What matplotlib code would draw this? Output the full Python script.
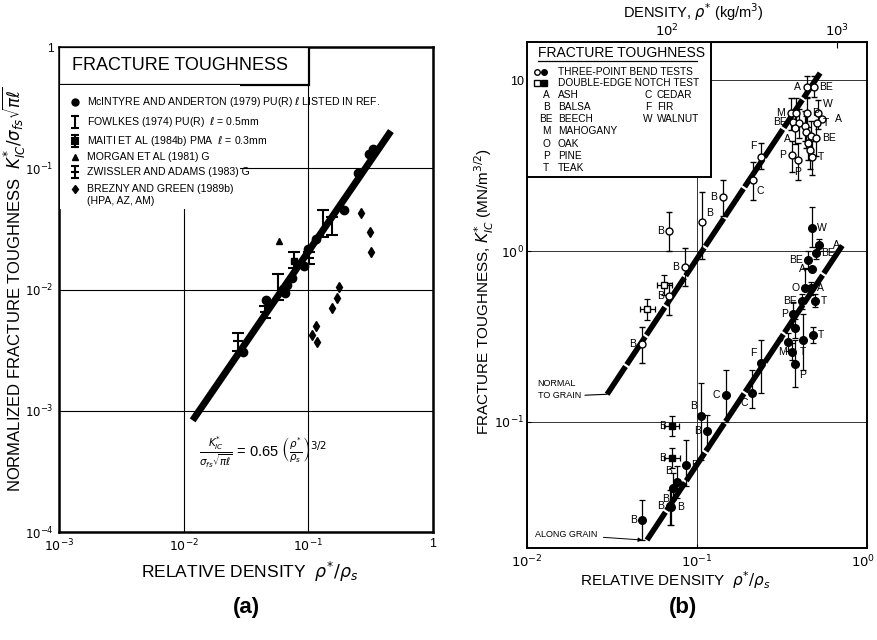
import numpy as np
import matplotlib
matplotlib.use("Agg")
import matplotlib.pyplot as plt
from matplotlib.patches import Rectangle
from matplotlib.ticker import NullLocator
from matplotlib.transforms import ScaledTranslation

plt.rcParams['font.family'] = ['Liberation Sans', 'DejaVu Sans']
plt.rcParams['mathtext.fontset'] = 'dejavusans'

# ---------------- (a) normalized fracture toughness of foams ----------------
mcintyre_x = [0.0299, 0.0459, 0.0655, 0.068, 0.063, 0.074, 0.093, 0.100, 0.115,
              0.194, 0.251, 0.308, 0.331]
mcintyre_y = [0.00303, 0.00826, 0.0094, 0.0108, 0.0101, 0.0125, 0.0156, 0.0217,
              0.0259, 0.0452, 0.092, 0.130, 0.144]

fowlkes_x = [0.0569, 0.132, 0.155]
fowlkes_y = [0.0103, 0.0344, 0.0333]
fowlkes_lo = [0.0082, 0.0270, 0.0280]
fowlkes_hi = [0.0135, 0.0450, 0.0400]

maiti_x = [0.0773]
maiti_y = [0.0171]
maiti_lo = [0.0150]
maiti_hi = [0.0205]

morgan_x = [0.0586]
morgan_y = [0.025]

zwissler_x = [0.0272, 0.0452, 0.101]
zwissler_y = [0.00374, 0.0065, 0.0183]
zwissler_lo = [0.0031, 0.0058, 0.0162]
zwissler_hi = [0.0044, 0.0073, 0.0205]

brezny_x = [0.264, 0.312, 0.318, 0.175, 0.171, 0.155, 0.115, 0.107, 0.117]
brezny_y = [0.043, 0.030, 0.0205, 0.0105, 0.0085, 0.0070, 0.0050, 0.0042, 0.0037]

fit_a_coef = 0.65
fit_a_exp = 1.5
fit_a_range = [0.0118, 0.46]

legend_a = [
    "McINTYRE AND ANDERTON (1979) PU(R) $\\ell$ LISTED IN REF.",
    "FOWLKES (1974) PU(R)  $\\ell$ = 0.5mm",
    "MAITI ET AL (1984b) PMA  $\\ell$ = 0.3mm",
    "MORGAN ET AL (1981) G",
    "ZWISSLER AND ADAMS (1983) G",
    "BREZNY AND GREEN (1989b)",
    "(HPA, AZ, AM)",
]

# ---------------- (b) fracture toughness of woods ----------------
RHO_S = 1500.0  # cell wall density, kg/m^3

normal_x = [0.442, 0.488, 0.356, 0.380, 0.442, 0.517, 0.540, 0.366, 0.400, 0.430,
            0.509, 0.376, 0.440, 0.470, 0.503, 0.450, 0.460, 0.360, 0.392, 0.474,
            0.237, 0.213, 0.142, 0.107, 0.0687, 0.0849, 0.0687, 0.0473]
normal_y = [9.06, 9.06, 6.38, 6.38, 6.38, 6.38, 5.90, 5.70, 5.60, 5.40,
            5.58, 5.22, 5.00, 4.70, 4.56, 4.30, 3.90, 3.64, 3.40, 3.56,
            3.56, 2.60, 2.08, 1.48, 1.31, 0.81, 0.546, 0.286]
normal_lo = [8.0, 8.0, 5.1, 5.2, 5.0, 5.2, 5.9, 5.7, 4.6, 4.4,
             5.58, 4.2, 4.0, 3.8, 3.6, 3.4, 3.0, 2.9, 2.6, 2.8,
             3.0, 2.0, 1.6, 0.9, 1.0, 0.62, 0.42, 0.22]
normal_hi = [10.5, 10.5, 7.9, 7.9, 7.9, 7.6, 5.9, 5.7, 6.8, 6.6,
             5.58, 6.4, 6.2, 5.8, 5.6, 5.3, 4.8, 4.4, 4.3, 4.4,
             4.3, 3.3, 2.6, 2.2, 1.7, 1.04, 0.65, 0.36]
normal_lbl = ["A", "BE", "M", "", "P", "W", "A", "BE", "", "",
              "T", "A", "", "", "BE", "", "", "P", "P", "T",
              "F", "C", "B", "B", "B", "B", "B", "B"]
normal_side = ["l", "r", "l", "", "r", "ur", "rr", "l", "", "",
               "r", "bl", "", "", "r", "", "", "l", "b", "r",
               "ul", "br", "l", "ur", "l", "l", "l", "l"]

normal_sq_x = [0.0643, 0.0510]
normal_sq_y = [0.632, 0.456]

along_x = [0.473, 0.525, 0.500, 0.450, 0.473, 0.430, 0.470, 0.416, 0.494, 0.368,
           0.376, 0.420, 0.478, 0.345, 0.363, 0.379, 0.237, 0.210, 0.148, 0.106,
           0.114, 0.0860, 0.0758, 0.0725, 0.0693, 0.0705, 0.0478]
along_y = [1.36, 1.08, 0.98, 0.885, 0.79, 0.605, 0.605, 0.512, 0.512, 0.429,
           0.353, 0.302, 0.323, 0.295, 0.257, 0.217, 0.220, 0.148, 0.144, 0.108,
           0.0886, 0.0561, 0.0448, 0.0410, 0.0323, 0.0318, 0.0267]
along_lo = [1.05, 1.0, 0.9, 0.78, 0.79, 0.605, 0.55, 0.46, 0.47, 0.37,
            0.31, 0.20, 0.29, 0.26, 0.23, 0.16, 0.147, 0.12, 0.10, 0.06,
            0.07, 0.042, 0.036, 0.035, 0.025, 0.025, 0.0205]
along_hi = [1.80, 1.17, 1.06, 1.00, 0.79, 0.80, 0.66, 0.56, 0.56, 0.50,
            0.40, 0.43, 0.36, 0.33, 0.29, 0.30, 0.30, 0.20, 0.20, 0.17,
            0.11, 0.078, 0.055, 0.050, 0.040, 0.040, 0.035]
along_lbl = ["W", "A", "BE", "BE", "A", "O", "A", "BE", "T", "P",
             "", "T", "T", "P", "M", "P", "F", "C", "C", "B",
             "B", "B", "B", "B", "B", "B", "B"]
along_side = ["r", "rr", "r", "l", "l", "l", "r", "l", "r", "l",
              "", "b", "r", "l", "l", "br", "ul", "bl", "l", "ul",
              "l", "r", "ul", "bl", "l", "r", "l"]

along_sq_x = [0.0710, 0.0713]
along_sq_y = [0.0948, 0.0614]

fit_normal_coef = 28.5
fit_normal_range = [0.0296, 0.53]
fit_along_coef = 1.78
fit_along_range = [0.0508, 0.723]
fit_b_exp = 1.5

species_col1 = [("A", "ASH"), ("B", "BALSA"), ("BE", "BEECH"), ("M", "MAHOGANY"),
                ("O", "OAK"), ("P", "PINE"), ("T", "TEAK")]
species_col2 = [("C", "CEDAR"), ("F", "FIR"), ("W", "WALNUT")]

# ============================================================================
W, H = 877.0, 640.0
fig = plt.figure(figsize=(W / 100, H / 100), dpi=100)
ax_a = fig.add_axes([0.0673, 0.16875, 0.4264, 0.7578])
ax_b = fig.add_axes([0.6009, 0.14375, 0.3877, 0.7906])


def fig_pos(px, py):
    return px / W, 1 - py / H


def style_log_axes(ax, lw):
    ax.set_xscale("log")
    ax.set_yscale("log")
    ax.xaxis.set_minor_locator(NullLocator())
    ax.yaxis.set_minor_locator(NullLocator())
    for s in ax.spines.values():
        s.set_linewidth(lw)
    ax.grid(True, which="major", color="black", lw=0.8, zorder=0)
    ax.set_axisbelow(True)


# ---------------- panel (a) ----------------
style_log_axes(ax_a, 1.8)
ax_a.set_xlim(1e-3, 1)
ax_a.set_ylim(1e-4, 1)
ax_a.set_xticks([1e-3, 1e-2, 1e-1, 1])
ax_a.set_xticklabels(["$10^{-3}$", "$10^{-2}$", "$10^{-1}$", "1"], fontsize=9)
ax_a.set_yticks([1e-4, 1e-3, 1e-2, 1e-1, 1])
ax_a.set_yticklabels(["$10^{-4}$", "$10^{-3}$", "$10^{-2}$", "$10^{-1}$", "1"], fontsize=8.5)
ax_a.tick_params(length=0, pad=4)

xf = np.array(fit_a_range)
ax_a.plot(xf, fit_a_coef * xf ** fit_a_exp, color="black", lw=5, solid_capstyle="butt", zorder=3)

ax_a.plot(mcintyre_x, mcintyre_y, "o", color="black", ms=6, zorder=4)
ax_a.errorbar(fowlkes_x, fowlkes_y,
              yerr=[np.subtract(fowlkes_y, fowlkes_lo), np.subtract(fowlkes_hi, fowlkes_y)],
              fmt="none", ecolor="black", elinewidth=1.5, capsize=4, capthick=1.5, zorder=4)
ax_a.errorbar(maiti_x, maiti_y,
              yerr=[np.subtract(maiti_y, maiti_lo), np.subtract(maiti_hi, maiti_y)],
              fmt="s", color="black", ms=4, elinewidth=1.5, capsize=4, capthick=1.5, zorder=4)
ax_a.plot(morgan_x, morgan_y, "^", color="black", ms=5, zorder=4)
ax_a.errorbar(zwissler_x, zwissler_y,
              yerr=[np.subtract(zwissler_y, zwissler_lo), np.subtract(zwissler_hi, zwissler_y)],
              fmt="_", color="black", ms=7, mew=1.5, elinewidth=1.5, capsize=4, capthick=1.5, zorder=4)
ax_a.plot(brezny_x, brezny_y, "d", color="black", ms=5, zorder=4)

# title box and key
ax_a.add_patch(Rectangle((0, 0.922), 0.668, 0.078, transform=ax_a.transAxes,
                         facecolor="white", edgecolor="black", lw=1.6, zorder=5))
ax_a.text(0.035, 0.961, "FRACTURE TOUGHNESS", transform=ax_a.transAxes,
          fontsize=13, va="center", ha="left", zorder=6)
ax_a.add_patch(Rectangle((0.003, 0.665), 0.48, 0.256, transform=ax_a.transAxes,
                         facecolor="white", edgecolor="none", zorder=5))
key_y = [0.887, 0.846, 0.806, 0.773, 0.742, 0.707, 0.683]
mx, tx = 0.043, 0.075
for txt, yy in zip(legend_a, key_y):
    ax_a.text(tx, yy, txt, transform=ax_a.transAxes, fontsize=7.6, va="center",
              ha="left", zorder=6)
T = ax_a.transAxes
ax_a.plot([mx], [key_y[0]], "o", color="black", ms=5, transform=T, zorder=6)
for k, mk in ((1, None), (2, "s"), (4, "_")):
    ax_a.plot([mx, mx], [key_y[k] - 0.012, key_y[k] + 0.012], color="black", lw=1.5,
              transform=T, zorder=6)
    ax_a.plot([mx, mx], [key_y[k] - 0.012, key_y[k] + 0.012], "_", color="black",
              ms=6, mew=1.5, transform=T, zorder=6)
    if mk:
        ax_a.plot([mx], [key_y[k]], mk, color="black", ms=4 if mk == "s" else 6, mew=1.5,
                  transform=T, zorder=6)
ax_a.plot([mx], [key_y[3]], "^", color="black", ms=5, transform=T, zorder=6)
ax_a.plot([mx], [key_y[5]], "d", color="black", ms=4.5, transform=T, zorder=6)

ax_a.text(0.375, 0.165,
          r"$\frac{K^{*}_{IC}}{\sigma_{fs}\sqrt{\pi\ell}}$ = 0.65 $\left(\frac{\rho^{*}}{\rho_s}\right)^{3/2}$",
          transform=ax_a.transAxes, fontsize=10.5, va="center", ha="left", zorder=6)

fig.text(*fig_pos(250, 572), r"RELATIVE DENSITY  $\rho^{*}/\rho_s$", fontsize=12.5,
         ha="center", va="center")
fig.text(*fig_pos(14, 289),
         r"NORMALIZED FRACTURE TOUGHNESS  $K^{*}_{IC}/\sigma_{fs}\sqrt{\pi\ell}$",
         fontsize=12, rotation=90, ha="center", va="center")
fig.text(*fig_pos(246, 608), "(a)", fontsize=16, fontweight="bold",
         ha="center", va="center")

# ---------------- panel (b) ----------------
style_log_axes(ax_b, 1.4)
ax_b.grid(True, which="major", color="#333333", lw=0.7, zorder=0)
ax_b.set_xlim(0.01, 1)
ax_b.set_ylim(0.0183, 16.7)
ax_b.set_xticks([0.01, 0.1, 1])
ax_b.set_xticklabels(["$10^{-2}$", "$10^{-1}$", "$10^{0}$"], fontsize=9.5)
ax_b.set_yticks([0.1, 1, 10])
ax_b.set_yticklabels(["$10^{-1}$", "$10^{0}$", "10"], fontsize=9)
ax_b.tick_params(length=3, direction="in", pad=2)
ax_b.tick_params(axis="x", pad=4)
last = ax_b.get_xticklabels()[-1]
last.set_transform(last.get_transform() + ScaledTranslation(-4 / 100, 0, fig.dpi_scale_trans))

top = ax_b.secondary_xaxis("top", functions=(lambda r: r * RHO_S, lambda d: d / RHO_S))
top.set_xticks([100, 1000])
top.set_xticklabels(["$10^{2}$", "$10^{3}$"], fontsize=9.5)
top.xaxis.set_minor_locator(NullLocator())
top.tick_params(length=4, direction="in", pad=2)

for coef, rng in ((fit_normal_coef, fit_normal_range), (fit_along_coef, fit_along_range)):
    xf = np.geomspace(rng[0], rng[1], 50)
    ax_b.plot(xf, coef * xf ** fit_b_exp, color="black", lw=4, dashes=(6, 0.4),
              solid_capstyle="butt", dash_capstyle="butt", zorder=3)

ax_b.errorbar(normal_x, normal_y,
              yerr=[np.subtract(normal_y, normal_lo), np.subtract(normal_hi, normal_y)],
              fmt="o", mfc="white", mec="black", color="black", ms=5, mew=1,
              elinewidth=0.9, capsize=2.5, capthick=0.9, zorder=4)
ax_b.errorbar(along_x, along_y,
              yerr=[np.subtract(along_y, along_lo), np.subtract(along_hi, along_y)],
              fmt="o", color="black", ms=5.5, elinewidth=0.9, capsize=2.5, capthick=0.9, zorder=4)
sq_x = np.array(normal_sq_x + along_sq_x)
sq_y = np.array(normal_sq_y + along_sq_y)
ax_b.errorbar(sq_x, sq_y,
              xerr=[sq_x * (1 - 10 ** -0.045), sq_x * (10 ** 0.045 - 1)],
              yerr=[sq_y * (1 - 10 ** -0.06), sq_y * (10 ** 0.06 - 1)],
              fmt="none", ecolor="black", elinewidth=0.9, capsize=2, capthick=0.9, zorder=4)
ax_b.plot(normal_sq_x, normal_sq_y, "s", mfc="white", mec="black", ms=5, zorder=5)
ax_b.plot(along_sq_x, along_sq_y, "s", color="black", ms=5, zorder=5)

offsets = {"l": (-4, 0, "right", "center"), "r": (4, 0, "left", "center"),
           "rr": (10, 0, "left", "center"),
           "b": (0, -5, "center", "top"), "bl": (-3, -4, "right", "top"),
           "br": (3, -4, "left", "top"), "ul": (-3, 4, "right", "bottom"),
           "ur": (3, 3, "left", "bottom")}


def label_points(xs, ys, labels, sides):
    for x, y, t, s in zip(xs, ys, labels, sides):
        if not t:
            continue
        dx, dy, ha, va = offsets[s]
        ax_b.annotate(t, (x, y), xytext=(dx, dy), textcoords="offset points",
                      ha=ha, va=va, fontsize=7.5, zorder=6)


label_points(normal_x, normal_y, normal_lbl, normal_side)
label_points(along_x, along_y, along_lbl, along_side)
label_points(normal_sq_x + along_sq_x, normal_sq_y + along_sq_y, ["", "", "B", "B"],
             ["l", "l", "l", "l"])

# leader notes for the two fits
nx0 = fit_normal_range[0]
ax_b.annotate("NORMAL\nTO GRAIN", (nx0, fit_normal_coef * nx0 ** fit_b_exp),
              xytext=(0.031, 0.314), textcoords="axes fraction", fontsize=6.5,
              ha="left", va="center", linespacing=1.4,
              arrowprops=dict(arrowstyle="-", lw=0.8, color="black",
                              shrinkA=1, shrinkB=0, relpos=(1.0, 0.2)))
ax0 = fit_along_range[0]
ax_b.annotate("ALONG GRAIN", (ax0 * 0.94, fit_along_coef * ax0 ** fit_b_exp),
              xytext=(0.025, 0.026), textcoords="axes fraction", fontsize=6.5,
              ha="left", va="center",
              arrowprops=dict(arrowstyle="-|>", lw=0.7, color="black",
                              mutation_scale=6, shrinkA=2, shrinkB=0))

# key box
Tb = ax_b.transAxes
ax_b.add_patch(Rectangle((0, 0.733), 0.541, 0.267, transform=Tb, facecolor="white",
                         edgecolor="black", lw=1.4, zorder=7))
ax_b.text(0.033, 0.979, "FRACTURE TOUGHNESS", transform=Tb, fontsize=10, ha="left",
          va="center", zorder=8)
ax_b.plot([0.033, 0.50], [0.962, 0.962], color="black", lw=0.9, transform=Tb, zorder=8)
ax_b.plot([0.029], [0.941], "o", mfc="white", mec="black", ms=4, transform=Tb, zorder=8)
ax_b.plot([0.050], [0.941], "o", color="black", ms=4, transform=Tb, zorder=8)
ax_b.plot([0.029], [0.919], "s", mfc="white", mec="black", ms=4, transform=Tb, zorder=8)
ax_b.plot([0.050], [0.919], "s", color="black", ms=4, transform=Tb, zorder=8)
ax_b.text(0.091, 0.941, "THREE-POINT BEND TESTS", transform=Tb, fontsize=7.3,
          va="center", zorder=8)
ax_b.text(0.091, 0.919, "DOUBLE-EDGE NOTCH TEST", transform=Tb, fontsize=7.3,
          va="center", zorder=8)
rows = [0.895, 0.872, 0.848, 0.824, 0.798, 0.775, 0.751]
for (code, name), yy in zip(species_col1, rows):
    ax_b.text(0.056, yy, code, transform=Tb, fontsize=7.3, va="center", ha="center", zorder=8)
    ax_b.text(0.091, yy, name, transform=Tb, fontsize=7.3, va="center", zorder=8)
for (code, name), yy in zip(species_col2, rows):
    ax_b.text(0.356, yy, code, transform=Tb, fontsize=7.3, va="center", ha="center", zorder=8)
    ax_b.text(0.382, yy, name, transform=Tb, fontsize=7.3, va="center", zorder=8)

fig.text(*fig_pos(675, 580), r"RELATIVE DENSITY  $\rho^{*}/\rho_s$", fontsize=11,
         ha="center", va="center")
fig.text(*fig_pos(693, 12), r"DENSITY, $\rho^{*}$ (kg/m$^{3}$)", fontsize=10.5,
         ha="center", va="center")
fig.text(*fig_pos(484, 292), r"FRACTURE TOUGHNESS, $K^{*}_{IC}$ (MN/m$^{3/2}$)",
         fontsize=11, rotation=90, ha="center", va="center")
fig.text(*fig_pos(683, 608), "(b)", fontsize=16, fontweight="bold",
         ha="center", va="center")

fig.savefig("out.png", dpi=100)
